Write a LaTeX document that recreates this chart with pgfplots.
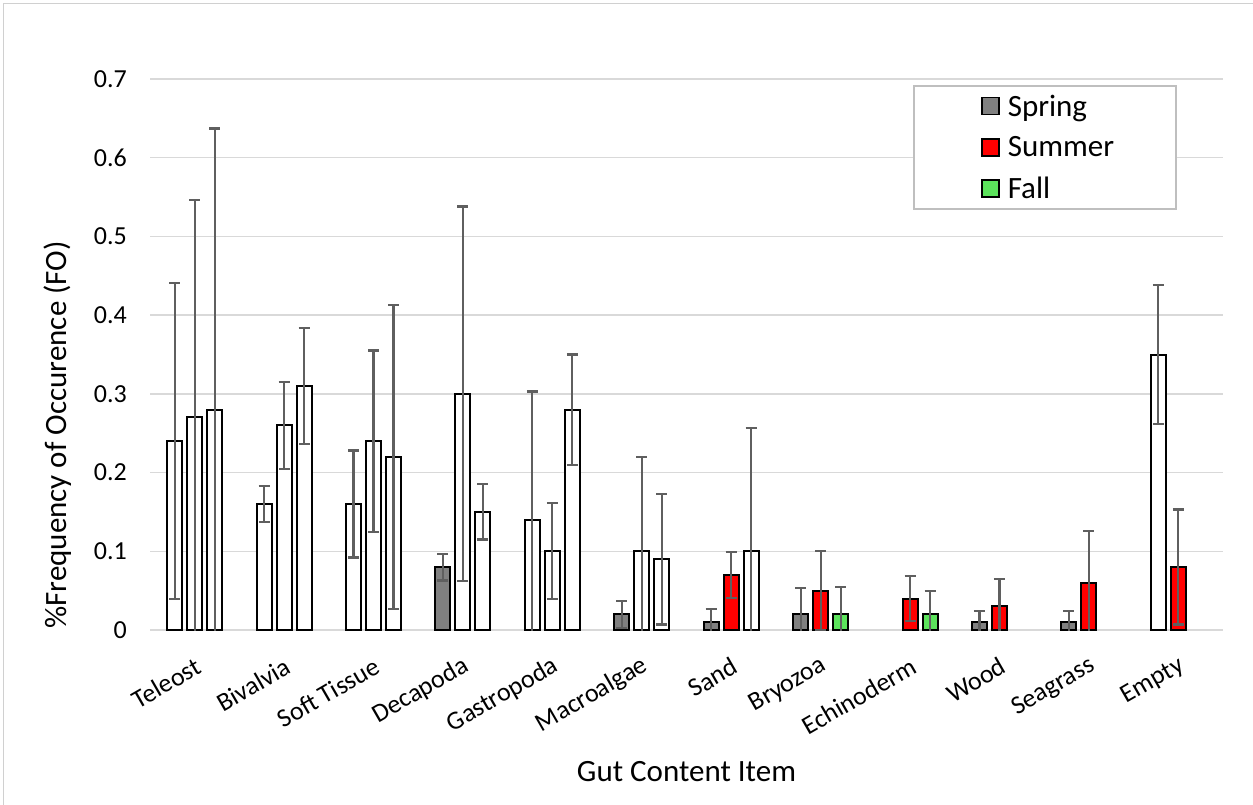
\documentclass[border=0pt]{standalone}
\usepackage{fontspec}
\setmainfont{Carlito}
\usepackage{pgfplots}
\usepackage{pgfplotstable}
\pgfplotsset{compat=1.18}
\definecolor{springc}{HTML}{808080}
\definecolor{summerc}{HTML}{FF0000}
\definecolor{fallc}{HTML}{5CE35C}
\definecolor{gridc}{HTML}{D9D9D9}
\definecolor{errc}{HTML}{5F5F5F}
\definecolor{borderc}{HTML}{D0D0D0}
\definecolor{legc}{HTML}{BFBFBF}

% x: 0 Teleost,1 Bivalvia,2 Soft Tissue,3 Decapoda,4 Gastropoda,5 Macroalgae,
%    6 Sand,7 Bryozoa,8 Echinoderm,9 Wood,10 Seagrass,11 Empty
\pgfplotstableread{
x y e
3 0.08 0.017
5 0.02 0.017
6 0.01 0.017
7 0.02 0.033
9 0.01 0.014
10 0.01 0.014
}\springfill
\pgfplotstableread{
x y e
0 0.24 0.201
1 0.16 0.023
2 0.16 0.068
4 0.14 0.163
11 0.35 0.088
}\springwhite
\pgfplotstableread{
x y e
6 0.07 0.029
7 0.05 0.050
8 0.04 0.029
9 0.03 0.035
10 0.06 0.066
11 0.08 0.073
}\summerfill
\pgfplotstableread{
x y e
0 0.27 0.276
1 0.26 0.055
2 0.24 0.115
3 0.30 0.238
4 0.10 0.061
5 0.10 0.120
}\summerwhite
\pgfplotstableread{
x y e
7 0.02 0.035
8 0.02 0.030
}\fallfill
\pgfplotstableread{
x y e
0 0.28 0.357
1 0.31 0.074
2 0.22 0.193
3 0.15 0.035
4 0.28 0.070
5 0.09 0.083
6 0.10 0.157
}\fallwhite

\pgfplotsset{
  errs/.style={
    /pgfplots/error bars/y dir=both,
    /pgfplots/error bars/y explicit,
    /pgfplots/error bars/error bar style={color=errc, line width=2.2pt},
    /pgfplots/error bars/error mark options={rotate=90, color=errc, line width=2.2pt, mark size=5.5pt}
  },
  mylegimg/.style={legend image code/.code={%
    \path (-67pt,0pt) (22pt,0pt);
    \draw[##1,draw=black,line width=1.5pt] (0pt,-8.5pt) rectangle (17pt,8.5pt);}},
}

\begin{document}
\begin{tikzpicture}
\path[use as bounding box, fill=white] (0,0) rectangle (1253pt,804pt);
\draw[color=borderc, line width=1pt] (3pt,-5pt) -- (3pt,800pt) -- (1260pt,800pt);
\begin{axis}[
  at={(150pt,174pt)}, anchor=south west,
  width=1073pt, height=551pt, scale only axis,
  xmin=-0.5, xmax=11.5, ymin=0, ymax=0.7,
  ybar, bar width=15pt,
  axis line style={draw=none},
  tick style={draw=none},
  ymajorgrids, major grid style={color=gridc, line width=1.5pt},
  ytick={0,0.1,0.2,0.3,0.4,0.5,0.6,0.7},
  yticklabel style={/pgf/number format/assume math mode=true,
     /pgf/number format/fixed, /pgf/number format/precision=1,
     font=\fontsize{26}{30}\selectfont, inner sep=0pt, xshift=-23pt},
  xtick={0,...,11},
  xticklabels={Teleost,Bivalvia,Soft Tissue,Decapoda,Gastropoda,Macroalgae,Sand,Bryozoa,Echinoderm,Wood,Seagrass,Empty},
  xticklabel style={font=\fontsize{26}{30}\selectfont, yshift=-30pt, xshift=4pt, rotate=30, anchor=east, inner sep=0pt},
  ylabel={\%Frequency of Occurence (FO)},
  ylabel style={font=\fontsize{31}{37}\selectfont, at={(axis description cs:-0.086,0.354)}, anchor=center, rotate=0},
  xlabel={Gut Content Item},
  xlabel style={font=\fontsize{31}{37}\selectfont, at={(axis description cs:0.5,-0.256)}, anchor=center},
  legend style={at={(axis description cs:0.7111,0.9891)}, anchor=north west,
     draw=legc, line width=1.5pt, fill=white,
     font=\fontsize{31}{37}\selectfont,
     inner xsep=0pt, inner ysep=6pt, row sep=13pt,
     nodes={inner sep=3pt}},
  legend cell align=left,
]
\addplot[fill=springc, draw=black, line width=2pt, bar shift=-20pt, mylegimg, errs]
  table[x=x, y=y, y error=e] {\springfill};
\addlegendentry{\makebox[165pt][l]{Spring}}
\addplot[fill=summerc, draw=black, line width=2pt, bar shift=0pt, mylegimg, errs]
  table[x=x, y=y, y error=e] {\summerfill};
\addlegendentry{\makebox[165pt][l]{Summer}}
\addplot[fill=fallc, draw=black, line width=2pt, bar shift=20pt, mylegimg, errs]
  table[x=x, y=y, y error=e] {\fallfill};
\addlegendentry{\makebox[165pt][l]{Fall}}
\addplot[forget plot, fill=white, draw=black, line width=2pt, bar shift=-20pt, errs]
  table[x=x, y=y, y error=e] {\springwhite};
\addplot[forget plot, fill=white, draw=black, line width=2pt, bar shift=0pt, errs]
  table[x=x, y=y, y error=e] {\summerwhite};
\addplot[forget plot, fill=white, draw=black, line width=2pt, bar shift=20pt, errs]
  table[x=x, y=y, y error=e] {\fallwhite};
\end{axis}
\end{tikzpicture}
\end{document}
